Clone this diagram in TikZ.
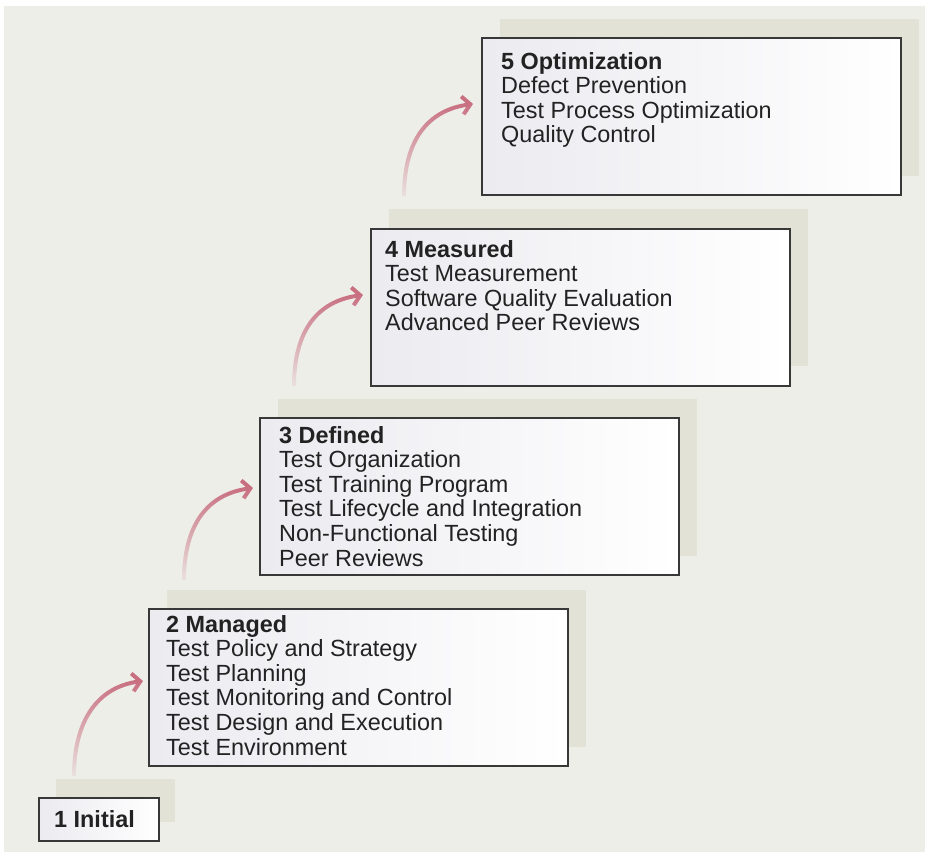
\documentclass[tikz,border=0pt]{standalone}
\usepackage{fontspec}
\setmainfont{Liberation Sans}
\usetikzlibrary{arrows.meta,fadings}

\definecolor{bgc}{HTML}{EEEEE9}
\definecolor{shc}{HTML}{E2E2D7}
\definecolor{boxl}{HTML}{EBEBF0}
\definecolor{edgec}{HTML}{383838}
\definecolor{arrc}{HTML}{C86F80}
\definecolor{txtc}{HTML}{222222}

\tikzfading[name=arrfade, top color=transparent!0, bottom color=transparent!92]

\begin{document}
\begin{tikzpicture}[x=1pt,y=-1pt,
  shadowbox/.style={fill=shc},
  stepbox/.style={draw=edgec, line width=1.8pt, left color=boxl, right color=white, inner sep=0pt, anchor=north west},
  txt/.style={anchor=base west, inner sep=0pt, align=left, font=\fontsize{23.4}{24.6}\selectfont, text=txtc},
  arr/.style={draw=arrc, line width=4pt, -{Straight Barb[length=8pt,width=18pt]}, path fading=arrfade}
]
\useasboundingbox (0,0) rectangle (925,852);
\fill[white] (0,0) rectangle (925,852);
\fill[bgc] (4,6) rectangle (925,852);

% shadows
\fill[shadowbox] (500,19) rectangle (919,176);
\fill[shadowbox] (389,209) rectangle (808,366);
\fill[shadowbox] (278,399) rectangle (697,556);
\fill[shadowbox] (167,590) rectangle (586,747);
\fill[shadowbox] (56,779) rectangle (175,822);

% boxes
\node[stepbox, minimum width=419pt, minimum height=157pt] (b5) at (481,37) {};
\node[stepbox, minimum width=419pt, minimum height=157pt] (b4) at (370,228) {};
\node[stepbox, minimum width=419pt, minimum height=157pt] (b3) at (259,417) {};
\node[stepbox, minimum width=419pt, minimum height=157pt] (b2) at (148,608) {};
\node[stepbox, minimum width=120pt, minimum height=43pt] (b1) at (38,797) {};

% texts (anchored at the baseline of the last line)
\node[txt] (t5) at (501,142.8) {\textbf{5 Optimization}\\Defect Prevention\\Test Process Optimization\\Quality Control};
\node[txt] (t4) at (385,330.8) {\textbf{4 Measured}\\Test Measurement\\Software Quality Evaluation\\Advanced Peer Reviews};
\node[txt] (t3) at (279,566) {\textbf{3 Defined}\\Test Organization\\Test Training Program\\Test Lifecycle and Integration\\Non-Functional Testing\\Peer Reviews};
\node[txt] (t2) at (166,755) {\textbf{2 Managed}\\Test Policy and Strategy\\Test Planning\\Test Monitoring and Control\\Test Design and Execution\\Test Environment};
\node[txt] (t1) at (54,827) {\textbf{1 Initial}};

% arrows
\coordinate (a4s) at (404,196); \coordinate (a4e) at (473,104);
\coordinate (a3s) at (294,386); \coordinate (a3e) at (363,295);
\coordinate (a2s) at (184,580); \coordinate (a2e) at (253,488);
\coordinate (a1s) at (74,776);  \coordinate (a1e) at (143,681);
\draw[arr] (a4s) .. controls (404,140) and (428,110) .. (a4e);
\draw[arr] (a3s) .. controls (294,330) and (318,301) .. (a3e);
\draw[arr] (a2s) .. controls (184,524) and (208,494) .. (a2e);
\draw[arr] (a1s) .. controls (74,720) and (98,687) .. (a1e);
\end{tikzpicture}
\end{document}
